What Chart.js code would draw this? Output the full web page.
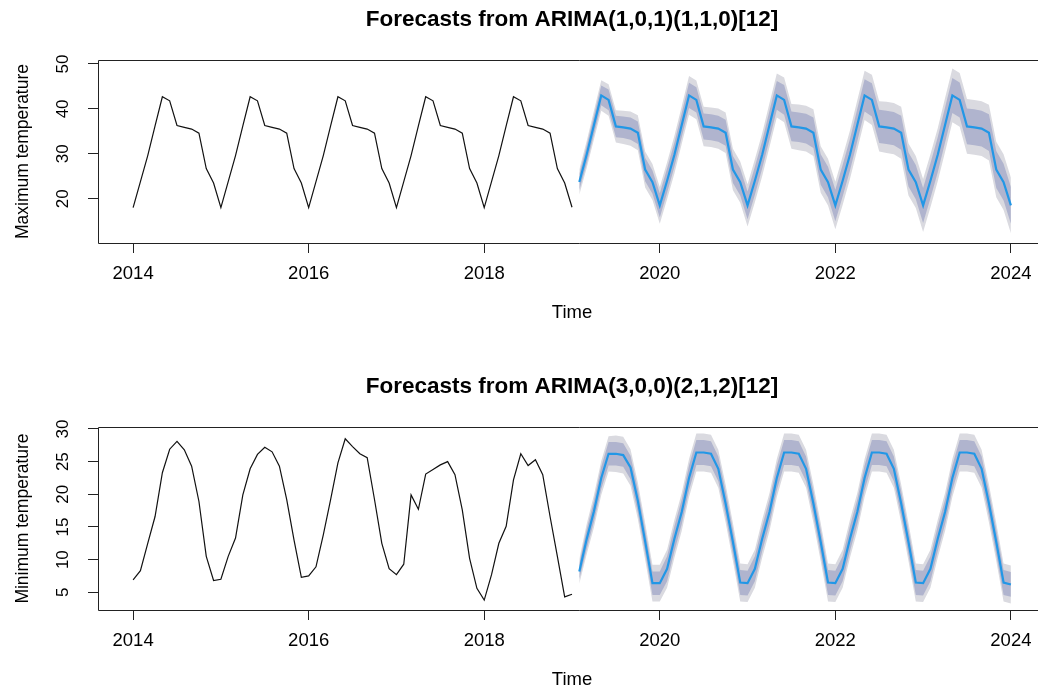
<!DOCTYPE html>
<html>
<head>
<meta charset="utf-8">
<title>ARIMA temperature forecasts</title>
<script src="https://cdn.jsdelivr.net/npm/chart.js@4"></script>
<style>
  html, body { margin: 0; padding: 0; background: #fff; overflow: hidden; width: 1038px; height: 688px; }
  canvas { position: absolute; left: 0; }
  #maxChart { top: 0; }
  #minChart { top: 367px; }
</style>
</head>
<body>
<canvas id="maxChart" width="1060" height="344"></canvas>
<canvas id="minChart" width="1060" height="344"></canvas>
<script>
// ---- time axis ----
const OBS_START = 2014;          // Jan 2014
const FC_START = 2019 + 1 / 12;  // Feb 2019
const xTicks = [2014, 2016, 2018, 2020, 2022, 2024];

// ---- maximum temperature: observed, forecast mean, interval half-widths ----
const maxTicks = [20, 30, 40, 50];
const maxObs = [
  18.0, 23.8, 29.6, 36.2, 42.7, 41.8, 36.3, 35.9, 35.5, 34.6, 26.7, 23.5,
  18.0, 23.8, 29.6, 36.2, 42.7, 41.8, 36.3, 35.9, 35.5, 34.6, 26.7, 23.5,
  18.0, 23.8, 29.6, 36.2, 42.7, 41.8, 36.3, 35.9, 35.5, 34.6, 26.7, 23.5,
  18.0, 23.8, 29.6, 36.2, 42.7, 41.8, 36.3, 35.9, 35.5, 34.6, 26.7, 23.5,
  18.0, 23.8, 29.6, 36.2, 42.7, 41.8, 36.3, 35.9, 35.5, 34.6, 26.7, 23.5,
  18.1
];
const maxFc = [
  23.7, 29.8, 36.4, 43.0, 42.0, 36.1, 35.9, 35.6, 34.7, 26.5, 23.7, 18.5,
  24.0, 29.8, 36.4, 43.0, 42.0, 36.1, 35.9, 35.6, 34.7, 26.5, 23.7, 18.5,
  24.0, 29.8, 36.4, 43.0, 42.0, 36.1, 35.9, 35.6, 34.7, 26.5, 23.7, 18.5,
  24.0, 29.8, 36.4, 43.0, 42.0, 36.1, 35.9, 35.6, 34.7, 26.5, 23.7, 18.5,
  24.0, 29.8, 36.4, 43.0, 42.0, 36.1, 35.9, 35.6, 34.7, 26.5, 23.7, 18.5
];
const maxHw80 = [
  1.8, 2.0, 2.1, 2.2, 2.3, 2.4, 2.4, 2.5, 2.5, 2.6, 2.6, 2.7,
  2.7, 2.7, 2.7, 2.8, 2.8, 2.9, 2.9, 2.9, 2.9, 3.0, 3.0, 3.1,
  3.1, 3.1, 3.2, 3.2, 3.3, 3.3, 3.3, 3.3, 3.4, 3.4, 3.4, 3.5,
  3.5, 3.5, 3.6, 3.6, 3.7, 3.7, 3.7, 3.7, 3.8, 3.8, 3.8, 3.9,
  3.9, 3.9, 3.9, 3.9, 3.9, 4.0, 4.0, 4.0, 4.1, 4.1, 4.1, 4.1
];
const maxHw95 = [
  2.8, 3.0, 3.2, 3.4, 3.5, 3.6, 3.7, 3.8, 3.9, 4.0, 4.0, 4.1,
  4.1, 4.2, 4.2, 4.3, 4.3, 4.4, 4.4, 4.5, 4.5, 4.6, 4.6, 4.7,
  4.8, 4.8, 4.9, 4.9, 5.0, 5.0, 5.1, 5.1, 5.2, 5.2, 5.2, 5.3,
  5.4, 5.4, 5.5, 5.5, 5.6, 5.6, 5.7, 5.7, 5.8, 5.8, 5.8, 5.9,
  5.9, 5.9, 6.0, 6.0, 6.0, 6.1, 6.1, 6.1, 6.2, 6.2, 6.2, 6.2
];

// ---- minimum temperature: observed, forecast mean, interval half-widths ----
const minTicks = [5, 10, 15, 20, 25, 30];
const minObs = [
  6.9, 8.3, 12.5, 16.6, 23.3, 26.9, 28.1, 26.8, 24.3, 18.9, 10.5, 6.8,
  7.0, 10.5, 13.3, 19.9, 23.9, 26.1, 27.2, 26.5, 24.3, 19.2, 13.0, 7.3,
  7.5, 8.9, 13.8, 19.2, 24.8, 28.5, 27.3, 26.2, 25.6, 19.2, 12.5, 8.6,
  7.7, 9.3, 19.9, 17.7, 23.1, 23.8, 24.5, 25.0, 23.0, 17.6, 10.2, 5.6,
  3.8, 7.7, 12.5, 15.1, 22.2, 26.2, 24.4, 25.3, 23.0, 16.6, 10.5, 4.3,
  4.7
];
const minFc = [
  8.2, 13.1, 17.4, 22.5, 26.2, 26.2, 26.0, 24.1, 19.0, 12.8, 6.4, 6.4,
  8.6, 13.2, 17.3, 22.5, 26.4, 26.4, 26.2, 23.9, 18.6, 12.7, 6.5, 6.4,
  8.6, 13.2, 17.3, 22.5, 26.4, 26.4, 26.2, 23.9, 18.6, 12.7, 6.5, 6.4,
  8.6, 13.2, 17.3, 22.5, 26.4, 26.4, 26.2, 23.9, 18.6, 12.7, 6.5, 6.4,
  8.6, 13.2, 17.3, 22.5, 26.4, 26.4, 26.2, 23.9, 18.6, 12.7, 6.5, 6.2
];
const minHw80 = [
  1.2, 1.5, 1.6, 1.7, 1.8, 1.8, 1.8, 1.8, 1.8, 1.8, 1.8, 1.8,
  1.9, 1.9, 1.9, 1.9, 1.9, 1.9, 1.9, 1.9, 1.9, 1.9, 1.9, 1.9,
  1.9, 1.9, 1.9, 1.9, 1.9, 1.9, 1.9, 1.9, 1.9, 1.9, 1.9, 1.9,
  1.9, 1.9, 1.9, 1.9, 1.9, 1.9, 1.9, 1.9, 1.9, 1.9, 1.9, 1.9,
  1.9, 1.9, 1.9, 1.9, 1.9, 1.9, 1.9, 1.9, 1.9, 1.9, 1.9, 1.9
];
const minHw95 = [
  1.9, 2.3, 2.5, 2.6, 2.7, 2.8, 2.8, 2.8, 2.8, 2.8, 2.8, 2.8,
  2.9, 2.9, 2.9, 2.9, 2.9, 2.9, 2.9, 2.9, 2.9, 2.9, 2.9, 2.9,
  2.9, 2.9, 2.9, 2.9, 2.9, 2.9, 2.9, 2.9, 2.9, 2.9, 2.9, 2.9,
  2.9, 2.9, 2.9, 2.9, 2.9, 2.9, 2.9, 2.9, 2.9, 2.9, 2.9, 2.9,
  2.9, 2.9, 2.9, 2.9, 2.9, 2.9, 2.9, 2.9, 2.9, 2.9, 2.9, 2.9
];

// ---- drawing ----
const FONT = "'Liberation Sans', Arial, Helvetica, sans-serif";
const INK = '#000';
const AXIS = '#222';

function monthly(start, values) {
  return values.map((v, i) => ({ x: start + i / 12, y: v }));
}
function shifted(values, widths, sign) {
  return values.map((v, i) => v + sign * widths[i]);
}

// plot frame: left, top and bottom edges (the right edge lies past the page)
const framePlugin = {
  id: 'frame',
  afterDraw(chart) {
    const { ctx, chartArea: a, width } = chart;
    const l = Math.round(a.left) + 0.5;
    const t = Math.round(a.top) + 0.5;
    const b = Math.round(a.bottom) + 0.5;
    ctx.save();
    ctx.strokeStyle = AXIS;
    ctx.lineWidth = 1;
    ctx.beginPath();
    ctx.moveTo(width, t);
    ctx.lineTo(l, t);
    ctx.lineTo(l, b);
    ctx.lineTo(width, b);
    ctx.stroke();
    ctx.restore();
  }
};

// y tick labels written parallel to the axis
const yLabelPlugin = {
  id: 'yLabels',
  afterDraw(chart) {
    const { ctx } = chart;
    const s = chart.scales.y;
    ctx.save();
    ctx.fillStyle = INK;
    ctx.font = '17px ' + FONT;
    ctx.textAlign = 'center';
    ctx.textBaseline = 'middle';
    s.ticks.forEach(t => {
      const y = s.getPixelForValue(t.value);
      ctx.save();
      ctx.translate(63, y);
      ctx.rotate(-Math.PI / 2);
      ctx.fillText(String(t.value), 0, 0);
      ctx.restore();
    });
    ctx.restore();
  }
};

function panel(id, cfg) {
  const invisible = 'rgba(0,0,0,0)';
  new Chart(document.getElementById(id), {
    type: 'line',
    data: {
      datasets: [
        { data: monthly(FC_START, cfg.fc), borderColor: '#2297E6', borderWidth: 2.2,
          pointRadius: 0, fill: false },
        { data: monthly(OBS_START, cfg.obs), borderColor: '#111', borderWidth: 1.2,
          pointRadius: 0, fill: false },
        { data: monthly(FC_START, shifted(cfg.fc, cfg.hw80, 1)), borderColor: invisible,
          borderWidth: 0, pointRadius: 0, fill: false },
        { data: monthly(FC_START, shifted(cfg.fc, cfg.hw80, -1)), borderColor: invisible,
          borderWidth: 0, pointRadius: 0, fill: 2, backgroundColor: '#B0B4CE' },
        { data: monthly(FC_START, shifted(cfg.fc, cfg.hw95, 1)), borderColor: invisible,
          borderWidth: 0, pointRadius: 0, fill: false },
        { data: monthly(FC_START, shifted(cfg.fc, cfg.hw95, -1)), borderColor: invisible,
          borderWidth: 0, pointRadius: 0, fill: 4, backgroundColor: '#DADAE0' }
      ]
    },
    options: {
      responsive: false,
      animation: false,
      devicePixelRatio: 1,
      events: [],
      layout: { padding: { left: 0, right: 14, top: 0, bottom: 0 } },
      elements: { line: { tension: 0 } },
      plugins: {
        legend: { display: false },
        tooltip: { enabled: false },
        title: {
          display: true,
          fullSize: false,
          text: cfg.title,
          color: INK,
          font: { family: FONT, size: 22.5, weight: 'bold', lineHeight: 1.2 },
          padding: { top: 6.5, bottom: 26.5 }
        }
      },
      scales: {
        x: {
          type: 'linear',
          min: 2013.6,
          max: 2024.4,
          afterBuildTicks: s => { s.ticks = xTicks.map(v => ({ value: v })); },
          afterFit: s => { s.height = 101; },
          ticks: { callback: v => String(v), color: INK, font: { family: FONT, size: 18.5 },
                   padding: 10, maxRotation: 0, autoSkip: false },
          grid: { drawOnChartArea: false, drawTicks: true, tickLength: 10, color: AXIS, lineWidth: 1 },
          border: { display: false },
          title: { display: true, text: 'Time', color: INK,
                   font: { family: FONT, size: 18.5, lineHeight: 1.2 },
                   padding: { top: 0, bottom: 20 } }
        },
        y: {
          type: 'linear',
          min: cfg.yMin,
          max: cfg.yMax,
          afterBuildTicks: s => { s.ticks = cfg.yTicks.map(v => ({ value: v })); },
          afterFit: s => { s.width = 98; },
          ticks: { display: false },
          grid: { drawOnChartArea: false, drawTicks: true, tickLength: 10, color: AXIS, lineWidth: 1 },
          border: { display: false },
          title: { display: true, text: cfg.yTitle, color: INK,
                   font: { family: FONT, size: 17.5, lineHeight: 1.2 },
                   padding: { top: 13, bottom: 0 } }
        }
      }
    },
    plugins: [framePlugin, yLabelPlugin]
  });
}

panel('maxChart', {
  title: 'Forecasts from ARIMA(1,0,1)(1,1,0)[12]',
  yTitle: 'Maximum temperature',
  obs: maxObs, fc: maxFc, hw80: maxHw80, hw95: maxHw95,
  yMin: 10.13, yMax: 50.89, yTicks: maxTicks
});

panel('minChart', {
  title: 'Forecasts from ARIMA(3,0,0)(2,1,2)[12]',
  yTitle: 'Minimum temperature',
  obs: minObs, fc: minFc, hw80: minHw80, hw95: minHw95,
  yMin: 2.29, yMax: 30.3, yTicks: minTicks
});
</script>
</body>
</html>
